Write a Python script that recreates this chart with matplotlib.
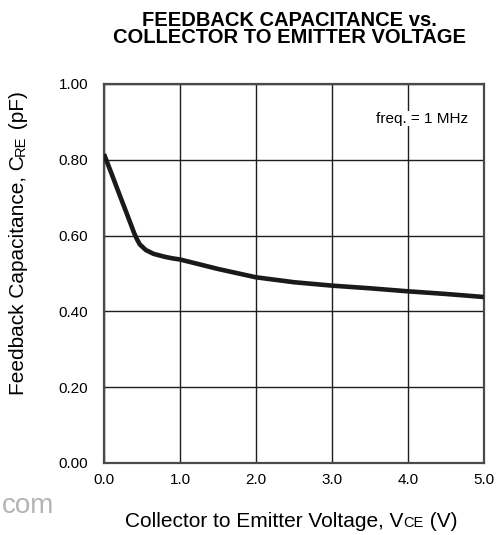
import matplotlib.pyplot as plt

plt.rcParams['font.family'] = ['Liberation Sans', 'DejaVu Sans']

# curve
vce = [0.0, 0.1, 0.2, 0.3, 0.4, 0.43, 0.47, 0.55, 0.65, 0.8, 0.9, 1.0,
       1.2, 1.5, 2.0, 2.5, 3.0, 3.5, 4.0, 4.5, 5.0]
cre = [0.815, 0.763, 0.71, 0.658, 0.605, 0.592, 0.577, 0.562, 0.552, 0.544, 0.540, 0.537,
       0.527, 0.512, 0.490, 0.477, 0.468, 0.461, 0.453, 0.446, 0.438]

xticks = [0.0, 1.0, 2.0, 3.0, 4.0, 5.0]
yticks = [0.0, 0.2, 0.4, 0.6, 0.8, 1.0]

fig = plt.figure(figsize=(4.96, 5.35), dpi=100)
ax = fig.add_axes([0.2097, 0.1346, 0.7655, 0.7084])

ax.plot(vce, cre, color='#1a1a1a', lw=3.3, solid_capstyle='butt', zorder=3)

ax.set_xlim(0, 5)
ax.set_ylim(0, 1)
ax.set_xticks(xticks)
ax.set_yticks(yticks)
ax.set_xticklabels(['%.1f' % v for v in xticks])
ax.set_yticklabels(['%.2f' % v for v in yticks])
ax.tick_params(labelsize=11, length=0)
ax.tick_params(axis='y', pad=11.5)
ax.tick_params(axis='x', pad=7)
ax.grid(True, color='#1e1e1e', lw=1.0)
for s in ax.spines.values():
    s.set_color('#4a4a4a')
    s.set_linewidth(1.6)

ax.text(0.959, 0.908, 'freq. = 1 MHz', transform=ax.transAxes, ha='right', va='center',
        fontsize=11, zorder=4, bbox=dict(facecolor='white', edgecolor='none', pad=0.3))

# labels with small-caps style subscripts on the baseline
def rich_label(x, y, parts, vertical=False):
    r = fig.canvas.get_renderer()
    texts = []
    total = 0
    for s, size in parts:
        t = fig.text(0, 0, s, fontsize=size, ha='left', va='baseline',
                     rotation_mode='anchor')
        w = t.get_window_extent(r).width
        texts.append((t, w))
        total += w
    pos = -total / 2
    for t, w in texts:
        if vertical:
            t.set_rotation(90)
            t.set_position((x, y + pos / fig.bbox.height))
        else:
            t.set_position((x + pos / fig.bbox.width, y))
        pos += w

rich_label(0.587, 0.015, [('Collector to Emitter Voltage, V', 15), ('CE', 10.5), (' (V)', 15)])
rich_label(0.049, 0.545, [('Feedback Capacitance, C', 15), ('RE', 10.5), (' (pF)', 15)],
           vertical=True)

fig.text(0.583, 0.979, 'FEEDBACK CAPACITANCE vs.\nCOLLECTOR TO EMITTER VOLTAGE',
         ha='center', va='top', multialignment='center', fontsize=14.5,
         fontweight='bold', linespacing=0.87)

fig.text(0.004, 0.041, 'com', color='#b4b4b4', fontsize=20, ha='left', va='baseline')

fig.savefig('out.png', dpi=100)
